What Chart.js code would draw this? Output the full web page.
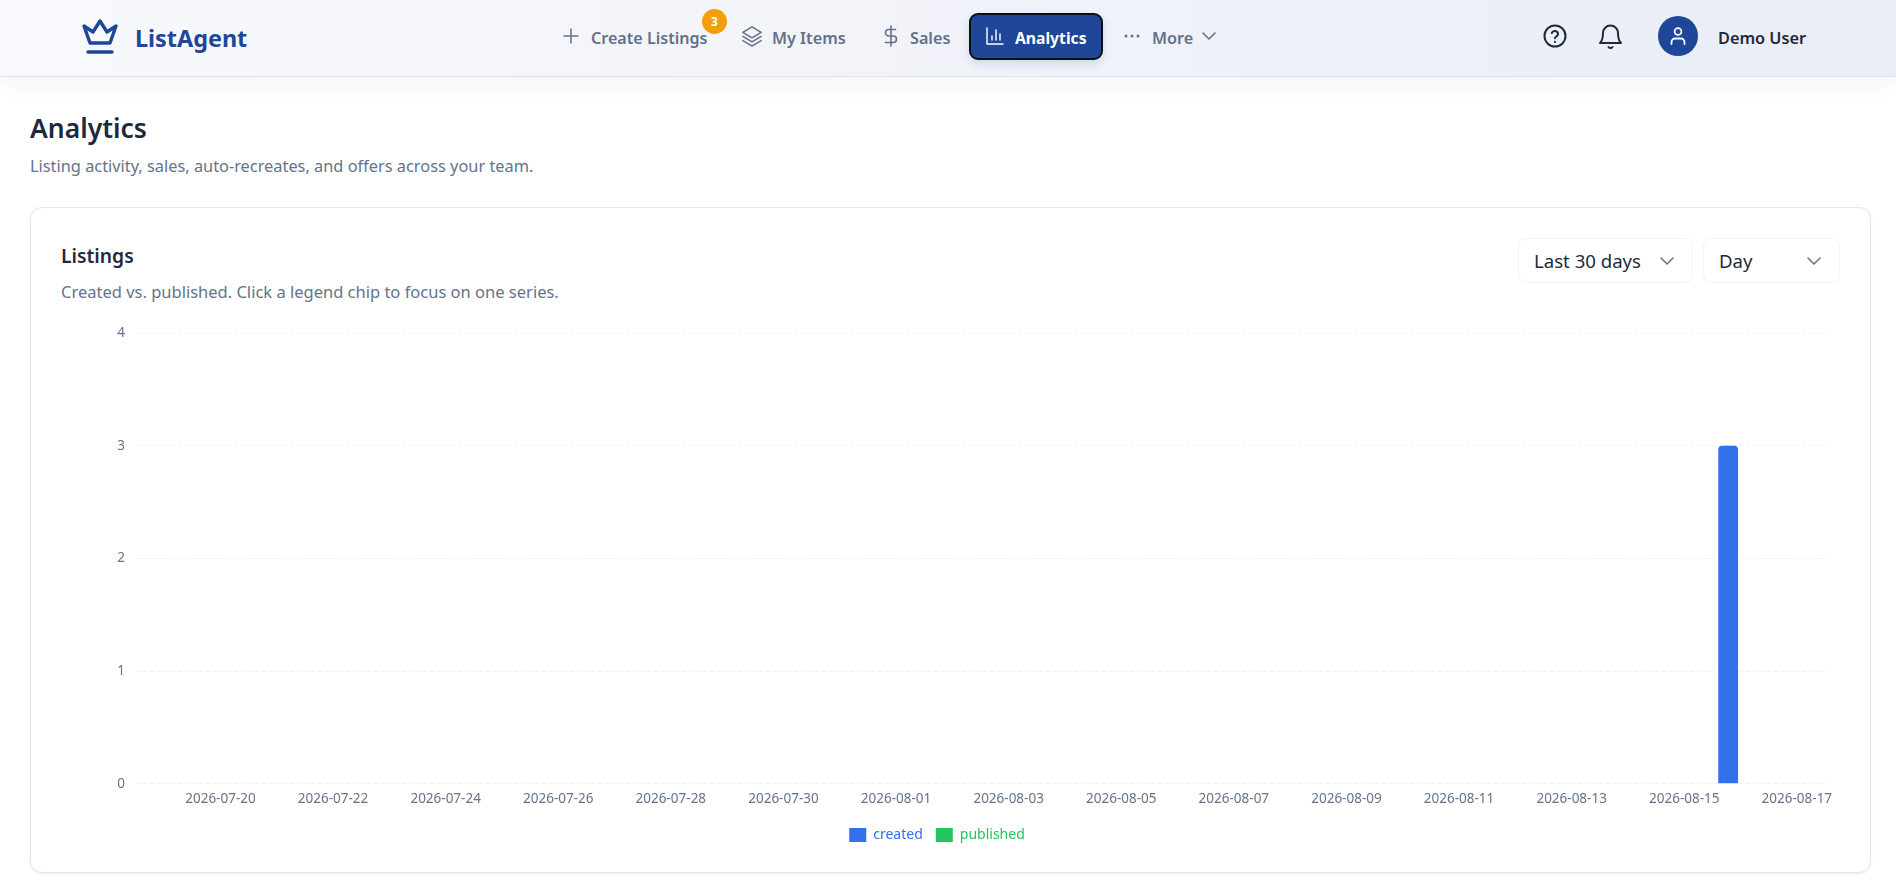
<!DOCTYPE html>
<html>
<head>
<meta charset="utf-8">
<title>Analytics</title>
<script src="https://cdn.jsdelivr.net/npm/chart.js@4"></script>
<style>
  * { box-sizing: border-box; }
  html, body { margin: 0; height: 100%; background: #fff; overflow: hidden; font-family: "Noto Sans", sans-serif; }
  .abs { position: absolute; white-space: nowrap; }
  .nav { position: absolute; left: 0; top: 0; width: 1896px; height: 77px; background: linear-gradient(90deg, #f8f9fc 0%, #e9edf6 100%); border-bottom: 1px solid #dfe3ec; box-shadow: 0 8px 18px rgba(30, 41, 59, .05); }
  .link { font-size: 16.2px; font-weight: 600; color: #64708a; line-height: 20px; }
  .ico { position: absolute; fill: none; stroke-linecap: round; stroke-linejoin: round; }
  .active { left: 969px; top: 13px; width: 134px; height: 47px; background: #1e4799; border: 2px solid #0b0f19; border-radius: 9px; box-shadow: 0 4px 10px rgba(30, 71, 153, .15); }
  .badge { left: 702px; top: 9px; width: 25px; height: 25px; border-radius: 50%; background: #f59e0b; color: #fff; font-size: 12px; font-weight: 700; text-align: center; line-height: 25px; }
  .avatar { left: 1658px; top: 16px; width: 40px; height: 40px; border-radius: 50%; background: #1e4799; }
  .card { left: 30px; top: 207px; width: 1841px; height: 666px; border: 1px solid #e2e6ef; border-radius: 12px; background: #fff; box-shadow: 0 1px 3px rgba(30, 41, 59, .08); }
  .select { top: 238px; height: 45px; border: 1px solid #f1f3f8; border-radius: 8px; background: #fff; }
  .selectText { top: 249px; font-size: 18.6px; line-height: 24px; color: #1e293b; }
  #chart-listings { position: absolute; left: 49px; top: 314px; }
</style>
</head>
<body>

<div class="nav"></div>

<!-- logo -->
<svg class="ico" style="left:81px;top:18px" width="38" height="38" viewBox="0 0 38 38" stroke="#1e4799" stroke-width="3.4">
  <path d="M9 25 L3 8 L12 14 L19 3 L26 14 L35 8 L29 25 Z"/>
  <path d="M7 34 H31"/>
</svg>
<div class="abs" style="left:135px;top:21px;font-size:23.4px;font-weight:700;color:#1e4799;line-height:34px">ListAgent</div>

<!-- menu -->
<svg class="ico" style="left:562px;top:26px" width="18" height="20" viewBox="0 0 18 20" stroke="#64708a" stroke-width="1.5"><path d="M9 3 V17 M2 10 H16"/></svg>
<div class="abs link" style="left:591px;top:28px;font-size:16.1px">Create Listings</div>
<div class="abs badge">3</div>

<svg class="ico" style="left:741px;top:25px" width="22" height="22" viewBox="0 0 24 24" stroke="#64708a" stroke-width="1.6">
  <path d="M12 2 L22 8 L12 14 L2 8 Z"/><path d="M2 12.5 L12 18.5 L22 12.5"/><path d="M2 17 L12 23 L22 17"/>
</svg>
<div class="abs link" style="left:772px;top:28px">My Items</div>

<svg class="ico" style="left:880px;top:25px" width="22" height="22" viewBox="0 0 24 24" stroke="#64708a" stroke-width="1.7">
  <path d="M12 1 V23"/><path d="M17 5 H9.5 a3.5 3.5 0 0 0 0 7 h5 a3.5 3.5 0 0 1 0 7 H6"/>
</svg>
<div class="abs link" style="left:910px;top:28px">Sales</div>

<div class="abs active"></div>
<svg class="ico" style="left:985px;top:26px" width="20" height="20" viewBox="0 0 20 20" stroke="#fff" stroke-width="1.4">
  <path d="M2 2 V18 H18"/><path d="M7 14 V10 M11 14 V4 M15 14 V8"/>
</svg>
<div class="abs link" style="left:1015px;top:28px;color:#fff;font-weight:700;font-size:15.7px">Analytics</div>

<svg class="ico" style="left:1122px;top:28px" width="20" height="16" viewBox="0 0 20 16">
  <circle cx="4" cy="8" r="1.5" fill="#64708a"/><circle cx="10" cy="8" r="1.5" fill="#64708a"/><circle cx="16" cy="8" r="1.5" fill="#64708a"/>
</svg>
<div class="abs link" style="left:1152px;top:28px">More</div>
<svg class="ico" style="left:1201px;top:28px" width="16" height="16" viewBox="0 0 16 16" stroke="#64708a" stroke-width="1.6"><path d="M2 5 L8 11 L14 5"/></svg>

<!-- right side -->
<svg class="ico" style="left:1542px;top:23px" width="26" height="26" viewBox="0 0 26 26" stroke="#1e293b" stroke-width="2">
  <circle cx="13" cy="13" r="10.5"/><path d="M9.8 10 a3.3 3.3 0 0 1 6.3 1 c0 2.2-3.1 2.6-3.1 4.2"/><path d="M13 18.8 V19"/>
</svg>
<svg class="ico" style="left:1597px;top:22px" width="27" height="28" viewBox="0 0 27 28" stroke="#1e293b" stroke-width="2">
  <path d="M3 21 C6 18 6 15 6 11 a7.5 7.5 0 0 1 15 0 c0 4 0 7 3 10 Z"/><path d="M11.5 25 a2.4 2.4 0 0 0 4 0"/>
</svg>
<div class="abs avatar"></div>
<svg class="ico" style="left:1668px;top:26px" width="20" height="20" viewBox="0 0 20 20" stroke="#fff" stroke-width="1.8">
  <circle cx="10" cy="5.5" r="3.4"/><path d="M3.5 18 V16 a3.5 3.5 0 0 1 3.5 -3.5 h6 a3.5 3.5 0 0 1 3.5 3.5 V18"/>
</svg>
<div class="abs" style="left:1718px;top:28px;font-size:16.3px;font-weight:600;color:#1e293b;line-height:20px">Demo User</div>

<!-- page title -->
<div class="abs" style="left:30px;top:108px;font-size:26.5px;font-weight:600;color:#1e293b;line-height:40px">Analytics</div>
<div class="abs" style="left:30px;top:155px;font-size:16.35px;color:#64748b;line-height:22px">Listing activity, sales, auto-recreates, and offers across your team.</div>

<!-- card -->
<div class="abs card"></div>
<div class="abs" style="left:61px;top:242px;font-size:19.3px;font-weight:600;color:#1e293b;line-height:28px">Listings</div>
<div class="abs" style="left:61px;top:281px;font-size:16.5px;color:#64748b;line-height:22px">Created vs. published. Click a legend chip to focus on one series.</div>

<div class="abs select" style="left:1518px;width:175px"></div>
<div class="abs selectText" style="left:1534px">Last 30 days</div>
<svg class="ico" style="left:1659px;top:253px" width="16" height="16" viewBox="0 0 16 16" stroke="#64748b" stroke-width="1.5"><path d="M2 5 L8 11 L14 5"/></svg>
<div class="abs select" style="left:1703px;width:137px"></div>
<div class="abs selectText" style="left:1719px">Day</div>
<svg class="ico" style="left:1806px;top:253px" width="16" height="16" viewBox="0 0 16 16" stroke="#64748b" stroke-width="1.5"><path d="M2 5 L8 11 L14 5"/></svg>

<canvas id="chart-listings" width="1791" height="544" style="width:1791px;height:544px"></canvas>

<script>
  const categorias = [
    "2026-07-19", "2026-07-20", "2026-07-21", "2026-07-22", "2026-07-23", "2026-07-24",
    "2026-07-25", "2026-07-26", "2026-07-27", "2026-07-28", "2026-07-29", "2026-07-30",
    "2026-07-31", "2026-08-01", "2026-08-02", "2026-08-03", "2026-08-04", "2026-08-05",
    "2026-08-06", "2026-08-07", "2026-08-08", "2026-08-09", "2026-08-10", "2026-08-11",
    "2026-08-12", "2026-08-13", "2026-08-14", "2026-08-15", "2026-08-16", "2026-08-17",
  ];
  const created = [
    0, 0, 0, 0, 0, 0, 0, 0, 0, 0, 0, 0, 0, 0, 0,
    0, 0, 0, 0, 0, 0, 0, 0, 0, 0, 0, 0, 0, 3, 0,
  ];
  const published = [
    0, 0, 0, 0, 0, 0, 0, 0, 0, 0, 0, 0, 0, 0, 0,
    0, 0, 0, 0, 0, 0, 0, 0, 0, 0, 0, 0, 0, 0, 0,
  ];
  const tickLabels = [
    "2026-07-20", "2026-07-22", "2026-07-24", "2026-07-26", "2026-07-28",
    "2026-07-30", "2026-08-01", "2026-08-03", "2026-08-05", "2026-08-07",
    "2026-08-09", "2026-08-11", "2026-08-13", "2026-08-15", "2026-08-17",
  ];

  const ctl = document.getElementById("chart-listings");
  const fonte = '"Noto Sans", sans-serif';

  new Chart(ctl, {
    type: "bar",
    data: {
      labels: categorias,
      datasets: [
        {
          label: "created",
          data: created,
          backgroundColor: "#3370eb",
          borderRadius: { topLeft: 4, topRight: 4 },
          borderSkipped: false,
          categoryPercentage: 0.88,
          barPercentage: 0.8,
        },
        {
          label: "published",
          data: published,
          backgroundColor: "#22c55e",
          borderRadius: { topLeft: 4, topRight: 4 },
          borderSkipped: false,
          categoryPercentage: 0.88,
          barPercentage: 0.8,
        },
      ],
    },
    options: {
      responsive: false,
      animation: false,
      layout: {
        padding: { top: 8, right: 15, bottom: 6, left: 0 }
      },
      plugins: {
        tooltip: { enabled: false },
        legend: {
          position: "bottom",
          labels: {
            boxWidth: 17,
            boxHeight: 14,
            padding: 13,
            font: { family: fonte, size: 14 },
            generateLabels(chart) {
              return chart.data.datasets.map((ds, i) => ({
                text: ds.label,
                fillStyle: ds.backgroundColor,
                strokeStyle: ds.backgroundColor,
                lineWidth: 0,
                fontColor: ds.backgroundColor,
                datasetIndex: i,
              }));
            },
          },
        },
      },
      scales: {
        y: {
          min: 0,
          max: 4,
          afterFit(scale) { scale.width = 87; },
          grid: {
            color: "#eef1f6",
            lineWidth: 1,
            drawTicks: false,
          },
          border: { display: false, dash: [4, 3] },
          ticks: {
            stepSize: 1,
            padding: 11,
            color: "#64748b",
            font: { family: fonte, size: 13.5 },
          },
        },
        x: {
          afterFit(scale) { scale.height += 1; },
          grid: { display: false, drawTicks: false },
          border: { display: false },
          ticks: {
            autoSkip: false,
            maxRotation: 0,
            padding: 7,
            color: "#64748b",
            font: { family: fonte, size: 13.5 },
            callback(value) {
              const dia = this.getLabelForValue(value);
              return tickLabels.includes(dia) ? dia : "";
            },
          },
        },
      },
    },
  });
</script>
</body>
</html>
